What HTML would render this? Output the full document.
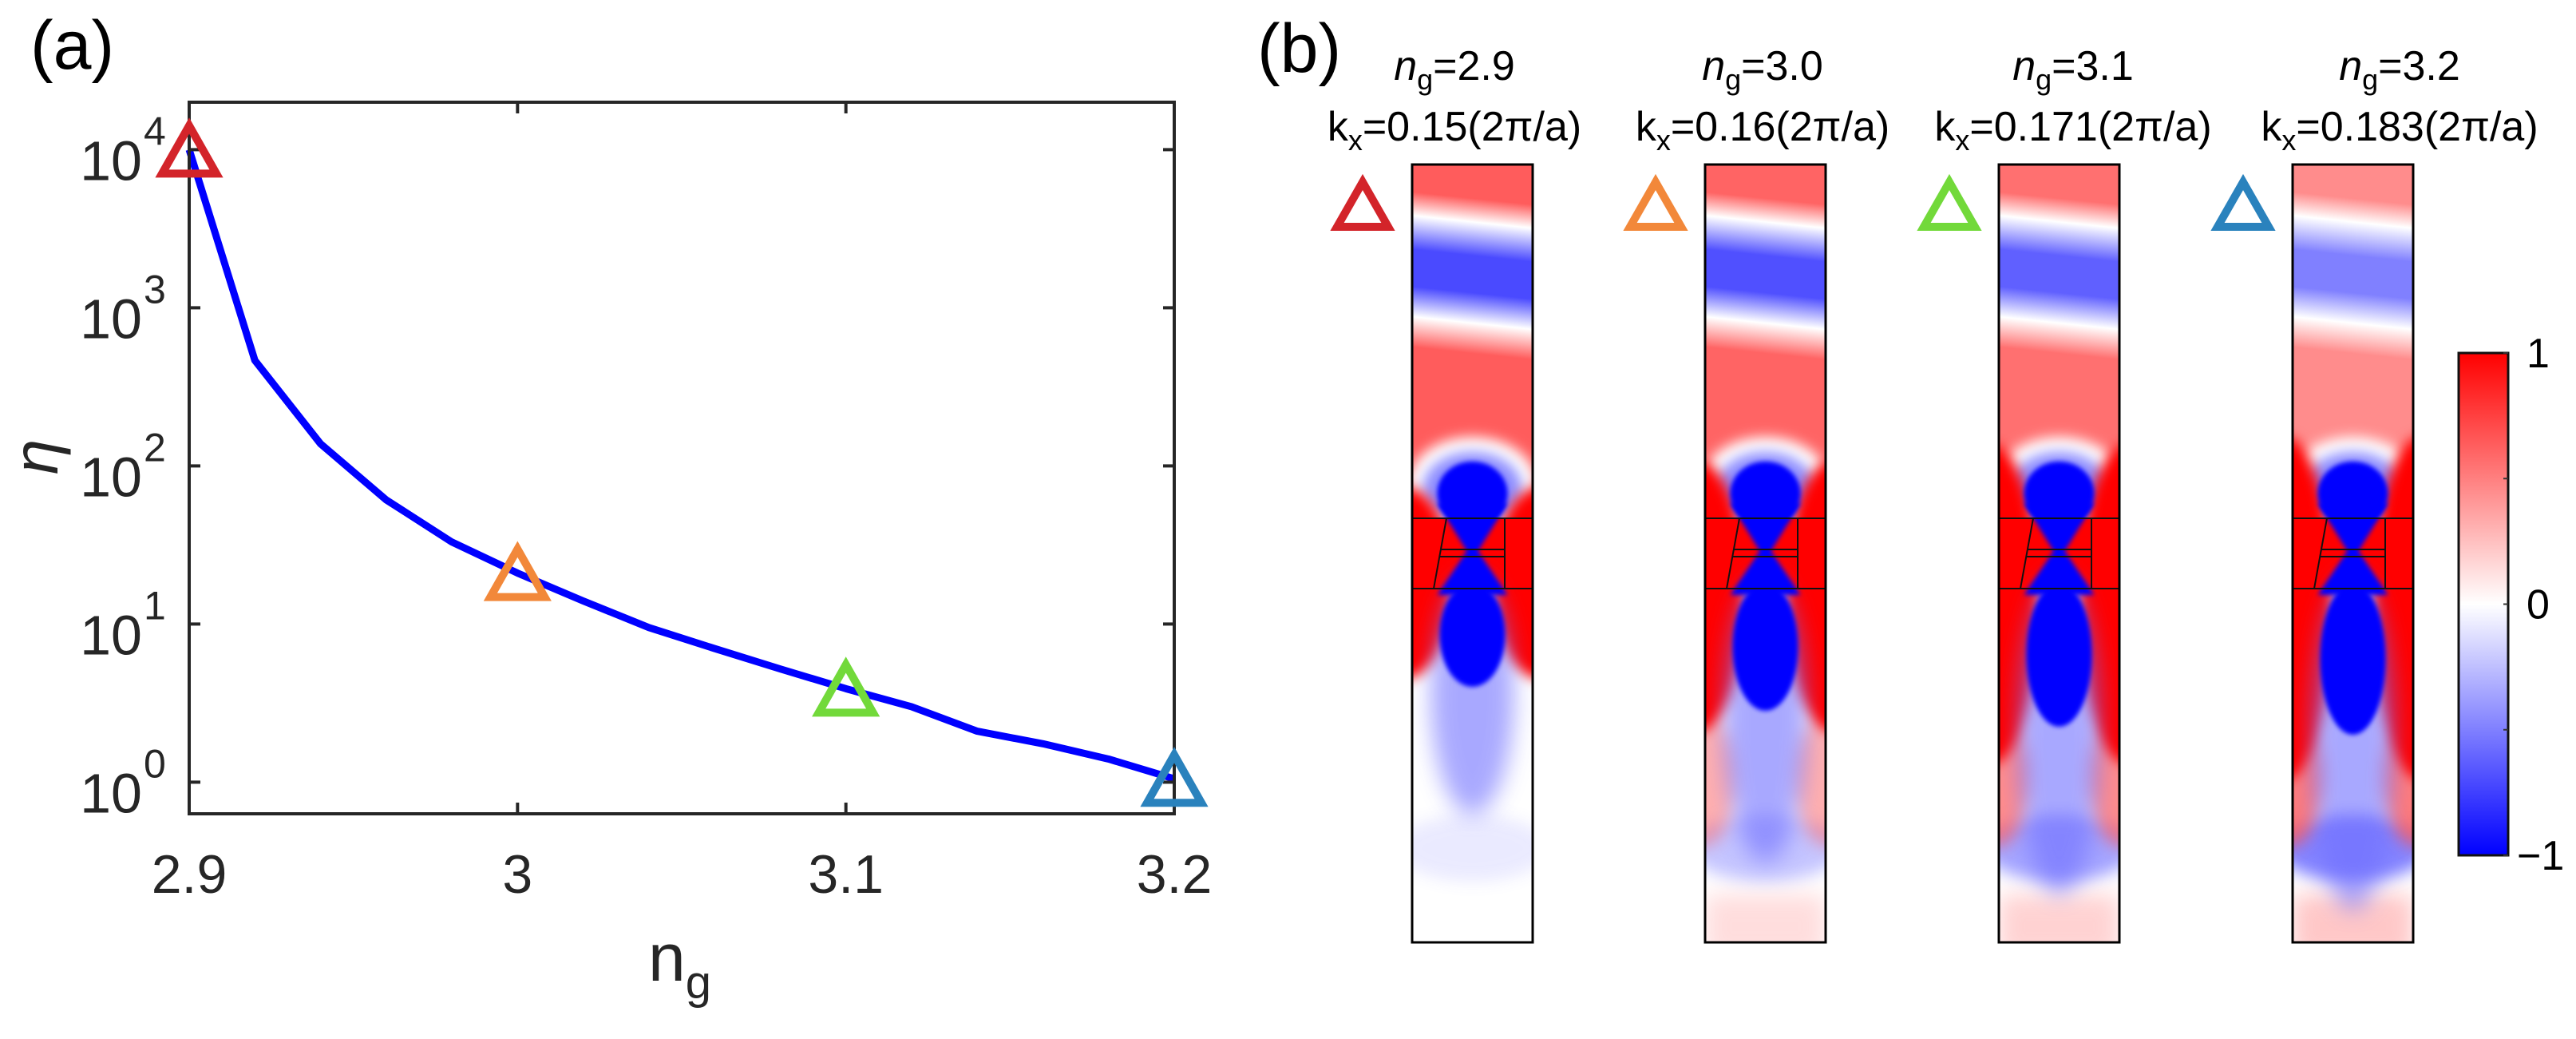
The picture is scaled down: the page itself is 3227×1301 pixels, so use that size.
<!DOCTYPE html>
<html><head><meta charset="utf-8">
<style>
html,body{margin:0;padding:0;background:#fff;}
svg{display:block;font-family:"Liberation Sans",Arial,sans-serif;}
</style></head>
<body>
<svg id="fig" width="3227" height="1301" viewBox="0 0 3227 1301" xmlns="http://www.w3.org/2000/svg">
<defs>
  <filter id="b3" x="-50%" y="-50%" width="200%" height="200%"><feGaussianBlur stdDeviation="3"/></filter>
  <filter id="b8" x="-50%" y="-50%" width="200%" height="200%"><feGaussianBlur stdDeviation="8"/></filter>
  <filter id="b10" x="-50%" y="-50%" width="200%" height="200%"><feGaussianBlur stdDeviation="10"/></filter>
  <filter id="b14" x="-50%" y="-50%" width="200%" height="200%"><feGaussianBlur stdDeviation="14"/></filter>
  <linearGradient id="cbgrad" x1="0" y1="0" x2="0" y2="1">
    <stop offset="0" stop-color="#ff0000"/>
    <stop offset="0.5" stop-color="#ffffff"/>
    <stop offset="1" stop-color="#0000ff"/>
  </linearGradient>
</defs>
<text x="38" y="86" font-size="86">(a)</text>
<text x="1575" y="90" font-size="86">(b)</text>
<g id="chartA"></g>
<g id="fields"></g>
<g id="cbar"></g>
</svg>
<script>
const ngValues = [2.90, 2.92, 2.94, 2.96, 2.98, 3.00, 3.02, 3.04, 3.06, 3.08, 3.10, 3.12, 3.14, 3.16, 3.18, 3.20];
const etaValues = [10000, 465, 138, 61, 33, 21, 14, 9.5, 7, 5.2, 3.9, 3.0, 2.1, 1.75, 1.4, 1.05];
const markerNg = [2.9, 3.0, 3.1, 3.2];
const markerEta = [10000, 21, 3.9, 1.05];
const markerColors = ["#d3242a", "#f2883a", "#72d93a", "#2a82bd"];
const xTicks = [2.9, 3.0, 3.1, 3.2];
const xTickLabels = ["2.9", "3", "3.1", "3.2"];
const yTickExps = [0, 1, 2, 3, 4];

const NS = "http://www.w3.org/2000/svg";
function mk(tag, attrs, parent){const e=document.createElementNS(NS,tag);for(const k in attrs)e.setAttribute(k,attrs[k]);if(parent)parent.appendChild(e);return e;}

const L=237,R=1471,T=128,B=1019;
const xmin=2.9,xmax=3.2,lmin=-0.2,lmax=4.3;
const xs=v=>L+(v-xmin)/(xmax-xmin)*(R-L);
const ys=v=>B-(Math.log10(v)-lmin)/(lmax-lmin)*(B-T);
const A=document.getElementById('chartA');

const line=mk('polyline',{points:ngValues.map((n,i)=>xs(n)+','+ys(etaValues[i])).join(' '),fill:'none',stroke:'#0000ff','stroke-width':9,'stroke-linejoin':'round'},A);



const frame=mk('rect',{x:L,y:T,width:R-L,height:B-T,fill:'none',stroke:'#262626','stroke-width':4},A);



xTicks.forEach((t,i)=>{
  const x=xs(t);
  mk('line',{x1:x,y1:B,x2:x,y2:B-14,stroke:'#262626','stroke-width':4},A);
  mk('line',{x1:x,y1:T,x2:x,y2:T+14,stroke:'#262626','stroke-width':4},A);
  const tx=mk('text',{x:x,y:1118,'font-size':68,'text-anchor':'middle',fill:'#262626'},A);
  tx.textContent=xTickLabels[i];
  
  
});
yTickExps.forEach(e=>{
  const y=ys(Math.pow(10,e));
  mk('line',{x1:L,y1:y,x2:L+14,y2:y,stroke:'#262626','stroke-width':4},A);
  mk('line',{x1:R,y1:y,x2:R-14,y2:y,stroke:'#262626','stroke-width':4},A);
  const tx=mk('text',{x:178,y:y+38,'font-size':70,'text-anchor':'end',fill:'#262626'},A);
  tx.textContent='10';
  
  
  const sp=mk('text',{x:180,y:y-6,'font-size':50,fill:'#262626'},A);
  sp.textContent=String(e);
  
  
});
markerNg.forEach((n,i)=>{
  const cx=xs(n),cy=ys(markerEta[i]);
  const p=mk('polygon',{points:`${cx},${cy-30} ${cx-34},${cy+30} ${cx+34},${cy+30}`,fill:'none',stroke:markerColors[i],'stroke-width':10},A);
  
  
});
const yl=mk('text',{x:0,y:0,'font-size':80,'font-style':'italic','text-anchor':'middle',fill:'#262626',transform:'translate(72,572) rotate(-90)'},A);
yl.textContent='η';


const xl=mk('text',{x:812,y:1228,'font-size':84,fill:'#262626'},A);
xl.innerHTML='n<tspan font-size="58" dy="22">g</tspan>';



const panelX=[1769,2136,2504,2872];
const titleCx=[1822,2208,2597,3006];
const ngLabels=["2.9","3.0","3.1","3.2"];
const kxLabels=["0.15","0.16","0.171","0.183"];
const topRed=["#ff5c5c","#ff6464","#ff7070","#ff8c8c"];
const topBlue=["#4a4aff","#5050ff","#6060ff","#8080ff"];
const lowLen=[70,100,120,130];
const sideLen=[120,170,200,215];
const sidePink=[0,0.45,0.65,0.75];
const bottomBlue=[0.12,0.35,0.55,0.75];
const bottomPink=[0.0,0.3,0.4,0.5];
const PT=206,PB=1180,PW=151;
const F=document.getElementById('fields');
const defs=document.querySelector('defs');
panelX.forEach((x0,i)=>{
  const g=mk('g',{},F);
  
  
  const cx=x0+PW/2;
  const cp=mk('clipPath',{id:'cp'+i},defs);
  mk('rect',{x:x0,y:PT,width:PW,height:PB-PT},cp);
  const gr=mk('linearGradient',{id:'tg'+i,gradientUnits:'userSpaceOnUse',x1:cx,y1:PT,x2:cx,y2:PT+420,gradientTransform:`rotate(6 ${cx} ${PT})`},defs);
  [[0,topRed[i]],[0.1,topRed[i]],[0.17,'#ffffff'],[0.27,topBlue[i]],[0.38,topBlue[i]],[0.47,'#ffffff'],[0.56,topRed[i]],[0.75,topRed[i]],[0.92,topRed[i]],[1,'#ffd0d0']].forEach(s=>mk('stop',{offset:s[0],'stop-color':s[1]},gr));
  const c=mk('g',{'clip-path':`url(#cp${i})`},g);
  mk('rect',{x:x0,y:PT,width:PW,height:PB-PT,fill:'#ffffff'},c);
  mk('rect',{x:x0-20,y:PT,width:PW+40,height:420,fill:`url(#tg${i})`},c);
  mk('rect',{x:x0,y:1120,width:PW,height:80,fill:'#ff9090',opacity:bottomPink[i],filter:'url(#b14)'},c);
  mk('ellipse',{cx:cx,cy:1062,rx:95,ry:42,fill:'#5a5aff',opacity:bottomBlue[i],filter:'url(#b10)'},c);
  mk('ellipse',{cx:x0-5,cy:975,rx:45,ry:85,fill:'#ff5050',opacity:sidePink[i],filter:'url(#b10)'},c);
  mk('ellipse',{cx:x0+PW+5,cy:975,rx:45,ry:85,fill:'#ff5050',opacity:sidePink[i],filter:'url(#b10)'},c);
  mk('ellipse',{cx:cx,cy:605,rx:80,ry:58,fill:'#ffffff',filter:'url(#b8)'},c);
  mk('ellipse',{cx:cx,cy:612,rx:62,ry:46,fill:'#8c8cff',filter:'url(#b8)'},c);
  mk('ellipse',{cx:x0-10,cy:690+sideLen[i]/3,rx:62,ry:sideLen[i],fill:'#ff0000',filter:'url(#b8)'},c);
  mk('ellipse',{cx:x0+PW+10,cy:690+sideLen[i]/3,rx:62,ry:sideLen[i],fill:'#ff0000',filter:'url(#b8)'},c);
  mk('rect',{x:x0,y:648,width:PW,height:90,fill:'#ff0000'},c);
  mk('ellipse',{cx:cx,cy:800+lowLen[i],rx:52,ry:lowLen[i]+80,fill:'#7070ff',opacity:0.6,filter:'url(#b14)'},c);
  mk('ellipse',{cx:cx,cy:618,rx:44,ry:40,fill:'#0000ff',filter:'url(#b3)'},c);
  mk('polygon',{points:`${cx-44},630 ${cx+44},630 ${cx+7},690 ${cx+44},745 ${cx-44},745 ${cx-7},690`,fill:'#0000ff',filter:'url(#b3)'},c);
  mk('ellipse',{cx:cx,cy:760+lowLen[i]/2,rx:41,ry:30+lowLen[i]/2,fill:'#0000ff',filter:'url(#b3)'},c);
  const sl={stroke:'#111','stroke-width':2,fill:'none'};
  mk('line',Object.assign({x1:x0,y1:649,x2:x0+PW,y2:649},sl),c);
  mk('line',Object.assign({x1:x0,y1:737,x2:x0+PW,y2:737},sl),c);
  mk('line',Object.assign({x1:x0+43,y1:649,x2:x0+27,y2:737},sl),c);
  mk('line',Object.assign({x1:x0+116,y1:649,x2:x0+116,y2:737},sl),c);
  mk('line',Object.assign({x1:x0+36,y1:688,x2:x0+116,y2:688},sl),c);
  mk('line',Object.assign({x1:x0+34,y1:697,x2:x0+116,y2:697},sl),c);
  mk('rect',{x:x0,y:PT,width:PW,height:PB-PT,fill:'none',stroke:'#000','stroke-width':3},g);
  const t1=mk('text',{x:titleCx[i],y:100,'font-size':52,'text-anchor':'middle',fill:'#000'},g);
  t1.innerHTML=`<tspan font-style="italic">n</tspan><tspan font-size="36" dy="12">g</tspan><tspan dy="-12">=${ngLabels[i]}</tspan>`;
  
  
  const t2=mk('text',{x:titleCx[i],y:176,'font-size':52,'text-anchor':'middle',fill:'#000'},g);
  t2.innerHTML=`k<tspan font-size="36" dy="12">x</tspan><tspan dy="-12">=${kxLabels[i]}(2π/a)</tspan>`;
  
  
  const tr=mk('polygon',{points:`${x0-62},${228} ${x0-94},${284} ${x0-30},${284}`,fill:'none',stroke:markerColors[i],'stroke-width':10},g);
  
  
});

const C=document.getElementById('cbar');
const cbT=442,cbB=1071,cbL=3080,cbR=3142;
const cbTicks=[1,0.5,0,-0.5,-1];
const cbLabels=["1","","0","","−1"];
mk('rect',{x:cbL,y:cbT,width:cbR-cbL,height:cbB-cbT,fill:'url(#cbgrad)',stroke:'#111','stroke-width':3},C);
cbTicks.forEach((v,i)=>{
  const y=cbT+(1-v)/2*(cbB-cbT);
  mk('line',{x1:cbR,y1:y,x2:cbR-6,y2:y,stroke:'#333','stroke-width':2},C);
  if(cbLabels[i]){
    const t=mk('text',{x:cbLabels[i]==="−1"?3153:3165,y:y+18,'font-size':52,fill:'#000'},C);
    t.textContent=cbLabels[i];
    
    
  }
});
</script>
</body></html>
